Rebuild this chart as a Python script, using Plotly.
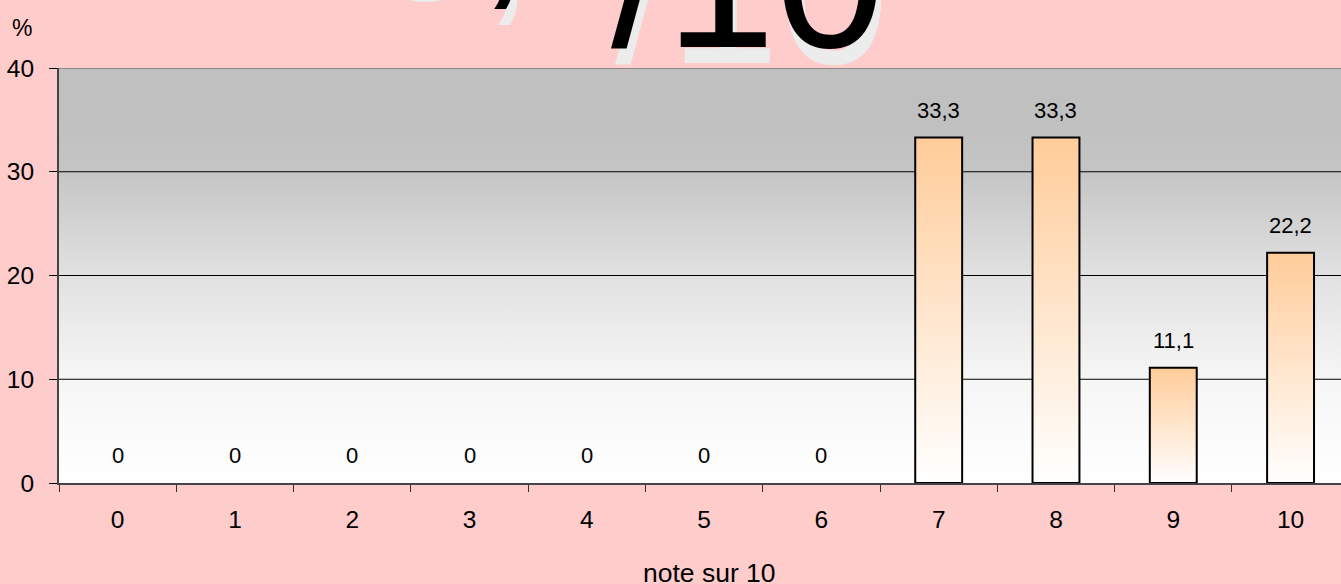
import plotly.graph_objects as go

# Distribution of marks (percent of answers for each mark out of 10)
categories = list(range(11))
cat_labels = [str(c) for c in categories]
percent = [0, 0, 0, 0, 0, 0, 0, 33.3, 33.3, 11.1, 22.2]
y_ticks = [0, 10, 20, 30, 40]

title_main = "8,2"
title_tail = "/10"
x_title = "note sur 10"
y_unit = "%"

FONT = "Arial, Liberation Sans, sans-serif"
PINK = "#FFCCCC"
BAR_TOP = "#FFCC99"
BAR_W = 0.40
Y_MAX = y_ticks[-1]
X_RANGE = [-0.5, 10.43]
TITLE_SIZE = 197


def fmt(v):
    return f"{v:g}".replace(".", ",")


fig = go.Figure()

# plot-area backdrop: grey at the top fading to white at the bottom
fig.add_trace(go.Scatter(
    x=[X_RANGE[0], 11, 11, X_RANGE[0], X_RANGE[0]],
    y=[0, 0, Y_MAX, Y_MAX, 0],
    mode="lines", line=dict(width=0), fill="toself",
    fillgradient=dict(type="vertical", start=0, stop=Y_MAX,
                      colorscale=[[0, "#FFFFFF"], [0.25, "#F6F6F6"], [0.5, "#E1E1E1"],
                                  [0.75, "#C5C5C5"], [0.88, "#C0C0C0"], [1, "#C0C0C0"]]),
    hoverinfo="skip", showlegend=False))

# horizontal gridlines (drawn over the backdrop, under the bars)
for g in y_ticks[1:-1]:
    fig.add_trace(go.Scatter(
        x=[X_RANGE[0], 11], y=[g, g], mode="lines",
        line=dict(color="black", width=1), hoverinfo="skip", showlegend=False))

# bars with an orange-to-white vertical gradient and a black outline
for c, v in zip(categories, percent):
    if v <= 0:
        continue
    fig.add_trace(go.Scatter(
        x=[c - BAR_W / 2, c - BAR_W / 2, c + BAR_W / 2, c + BAR_W / 2, c - BAR_W / 2],
        y=[0, v, v, 0, 0],
        mode="lines", line=dict(color="black", width=2), fill="toself",
        fillgradient=dict(type="vertical", start=0, stop=v,
                          colorscale=[[0, "#FFFFFF"], [1, BAR_TOP]]),
        hoverinfo="skip", showlegend=False))

annotations = []
# value labels above each bar
for c, v in zip(categories, percent):
    annotations.append(dict(
        x=c, y=v, xref="x", yref="y", text=fmt(v), showarrow=False,
        yanchor="bottom", yshift=13, font=dict(family=FONT, size=22, color="black")))

# large title with a pale drop shadow
for txt, xs, ys in [(title_main, 306, 40), (title_tail, 550, -23)]:
    annotations.append(dict(
        x=0, y=1, xref="paper", yref="paper", text=txt, showarrow=False,
        xanchor="left", yanchor="bottom", xshift=xs + 4, yshift=ys - 16,
        font=dict(family=FONT, size=TITLE_SIZE, color="#ECECEC")))
    annotations.append(dict(
        x=0, y=1, xref="paper", yref="paper", text=txt, showarrow=False,
        xanchor="left", yanchor="bottom", xshift=xs, yshift=ys,
        font=dict(family=FONT, size=TITLE_SIZE, color="black")))

annotations.append(dict(
    x=0, y=1, xref="paper", yref="paper", text=y_unit, showarrow=False,
    xanchor="center", yanchor="middle", xshift=-37, yshift=40,
    font=dict(family=FONT, size=23, color="black")))
annotations.append(dict(
    x=0.5, y=0, xref="paper", yref="paper", text=x_title, showarrow=False,
    xanchor="center", yanchor="middle", xshift=9, yshift=-90,
    font=dict(family=FONT, size=26.5, color="black")))

fig.update_layout(
    width=1341, height=584,
    margin=dict(l=59, r=0, t=68, b=101),
    paper_bgcolor=PINK, plot_bgcolor="white",
    showlegend=False,
    annotations=annotations,
    shapes=[dict(type="line", xref="paper", yref="y", x0=0, x1=1, y0=Y_MAX, y1=Y_MAX,
                 line=dict(color="#888888", width=2), layer="above")],
    xaxis=dict(
        range=X_RANGE, tickmode="array", tickvals=categories, ticktext=cat_labels,
        ticks="", showgrid=False, zeroline=False,
        showline=True, linecolor="#444444", linewidth=2,
        ticklabelstandoff=14,
        tickfont=dict(family=FONT, size=24.5, color="black"),
        minor=dict(tickmode="array", tickvals=[c - 0.5 for c in categories] + [categories[-1] + 0.5],
                   ticks="outside", ticklen=7, tickcolor="#333333", tickwidth=1, showgrid=False),
        fixedrange=True),
    yaxis=dict(
        range=[0, Y_MAX], tickmode="array", tickvals=y_ticks,
        ticks="outside", ticklen=8, tickcolor="black", tickwidth=1,
        showgrid=False, zeroline=False,
        showline=True, linecolor="#444444", linewidth=2,
        ticklabelstandoff=10,
        tickfont=dict(family=FONT, size=24.5, color="black"),
        fixedrange=True),
)

fig.write_html("out.html")
